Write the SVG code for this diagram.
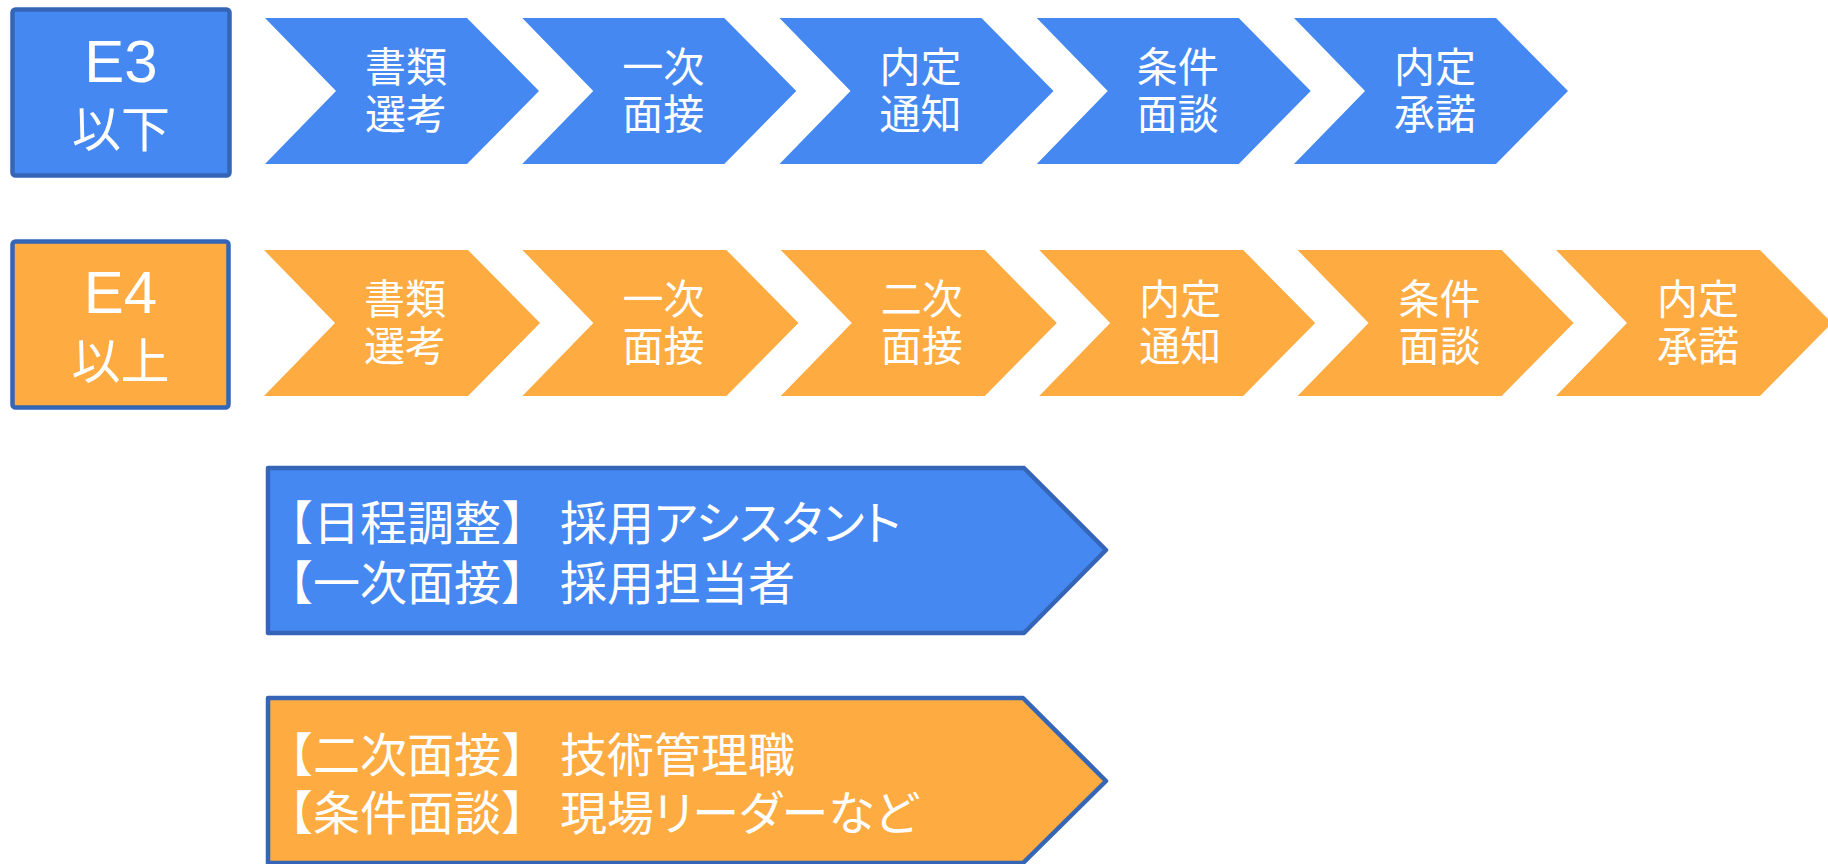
<svg xmlns="http://www.w3.org/2000/svg" width="1828" height="864" viewBox="0 0 1828 864">
<defs>
<style>
.blue{fill:#4588F2}
.orange{fill:#FEAB41}
.bord{stroke:#3565B6;stroke-width:4.5;stroke-linejoin:round}
.lbl{font-family:"Liberation Sans","Noto Sans CJK JP",sans-serif;fill:#fff;text-anchor:middle}
.cj{font-family:"Noto Sans CJK JP",sans-serif;fill:#fff}
.ct{font-size:41px;text-anchor:middle}
.bt{font-size:47px}
.pp{font-feature-settings:"palt"}
</style>
<polygon id="chev1" points="0,0 202,0 274,73 202,146 0,146 71,73"/>
<polygon id="chev2" points="0,0 204,0 276,73 204,146 0,146 71,73"/>
</defs>
<rect width="1828" height="864" fill="#fff"/>

<g id="e3">
<rect x="12.5" y="9.5" width="217" height="166" rx="3" class="blue bord"/>
<text class="lbl" x="121" y="82" font-size="60">E3</text>
<text class="lbl" x="121" y="147" font-size="49">以下</text>
</g>
<g id="e4">
<rect x="12.5" y="241.5" width="216" height="166" rx="3" class="orange bord"/>
<text class="lbl" x="120.5" y="313" font-size="60">E4</text>
<text class="lbl" x="120.5" y="379" font-size="49">以上</text>
</g>

<g id="r1s1"><use href="#chev1" x="265" y="18" class="blue"/><text class="cj ct" x="406" y="82">書類</text><text class="cj ct" x="406" y="129">選考</text></g>
<g id="r1s2"><use href="#chev1" x="522.25" y="18" class="blue"/><text class="cj ct" x="663.25" y="82">一次</text><text class="cj ct" x="663.25" y="129">面接</text></g>
<g id="r1s3"><use href="#chev1" x="779.5" y="18" class="blue"/><text class="cj ct" x="920.5" y="82">内定</text><text class="cj ct" x="920.5" y="129">通知</text></g>
<g id="r1s4"><use href="#chev1" x="1036.75" y="18" class="blue"/><text class="cj ct" x="1177.75" y="82">条件</text><text class="cj ct" x="1177.75" y="129">面談</text></g>
<g id="r1s5"><use href="#chev1" x="1294" y="18" class="blue"/><text class="cj ct" x="1435" y="82">内定</text><text class="cj ct" x="1435" y="129">承諾</text></g>

<g id="r2s1"><use href="#chev2" x="264" y="250" class="orange"/><text class="cj ct" x="405" y="314">書類</text><text class="cj ct" x="405" y="361">選考</text></g>
<g id="r2s2"><use href="#chev2" x="522.4" y="250" class="orange"/><text class="cj ct" x="663.4" y="314">一次</text><text class="cj ct" x="663.4" y="361">面接</text></g>
<g id="r2s3"><use href="#chev2" x="780.8" y="250" class="orange"/><text class="cj ct" x="921.8" y="314">二次</text><text class="cj ct" x="921.8" y="361">面接</text></g>
<g id="r2s4"><use href="#chev2" x="1039.2" y="250" class="orange"/><text class="cj ct" x="1180.2" y="314">内定</text><text class="cj ct" x="1180.2" y="361">通知</text></g>
<g id="r2s5"><use href="#chev2" x="1297.6" y="250" class="orange"/><text class="cj ct" x="1439.6" y="314">条件</text><text class="cj ct" x="1439.6" y="361">面談</text></g>
<g id="r2s6"><use href="#chev2" x="1556" y="250" class="orange"/><text class="cj ct" x="1698" y="314">内定</text><text class="cj ct" x="1698" y="361">承諾</text></g>

<g id="note1">
<polygon points="268,468 1024,468 1106,550 1024,633 268,633" class="blue bord"/>
<text class="cj bt" x="266" y="540">【日程調整】<tspan x="560" class="pp">採用アシスタント</tspan></text>
<text class="cj bt" x="266" y="600">【一次面接】<tspan x="560" class="pp">採用担当者</tspan></text>
</g>
<g id="note2">
<polygon points="268,698 1023,698 1106,781 1023,863 268,863" class="orange bord"/>
<text class="cj bt" x="266" y="772">【二次面接】<tspan x="560" class="pp">技術管理職</tspan></text>
<text class="cj bt" x="266" y="830">【条件面談】<tspan x="560" class="pp">現場リーダーなど</tspan></text>
</g>
<g id="connectors"/>
</svg>
